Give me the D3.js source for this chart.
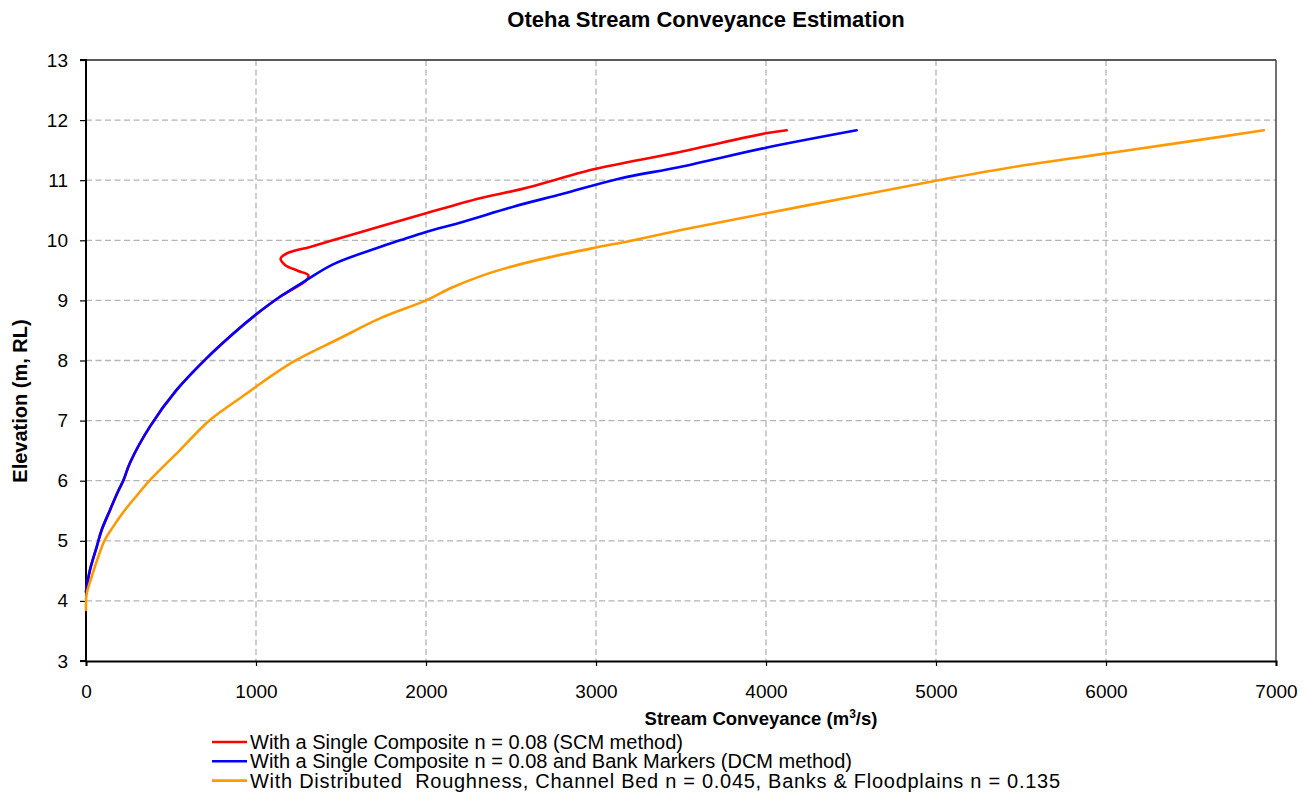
<!DOCTYPE html>
<html>
<head>
<meta charset="utf-8">
<script src="https://cdn.jsdelivr.net/npm/d3@7"></script>
<style>
  html, body { margin: 0; padding: 0; background: #fff; }
  text { font-family: "Liberation Sans", Arial, sans-serif; fill: #000; }
</style>
</head>
<body>
<svg id="chart" width="1312" height="798"></svg>
<script>
// ---- data ----
const xTicks = [0, 1000, 2000, 3000, 4000, 5000, 6000, 7000];
const yTicks = [3, 4, 5, 6, 7, 8, 9, 10, 11, 12, 13];

const seriesNames = [
  "With a Single Composite n = 0.08 (SCM method)",
  "With a Single Composite n = 0.08 and Bank Markers (DCM method)",
  "With Distributed  Roughness, Channel Bed n = 0.045, Banks & Floodplains n = 0.135"
];
const seriesColors = ["#ff0000", "#0000ff", "#ff9900"];

const scmQ    = [0, 23, 63, 92, 141, 185, 222, 259, 376, 533, 710, 867, 998, 1141, 1298, 1308, 1249, 1171, 1145, 1180, 1318, 1451, 1729, 2000, 2318, 2573, 2788, 3000, 3494, 4000, 4122];
const scmElev = [4.15, 4.51, 4.90, 5.18, 5.51, 5.80, 6.02, 6.30, 6.90, 7.51, 8.04, 8.45, 8.76, 9.06, 9.34, 9.42, 9.49, 9.59, 9.70, 9.78, 9.89, 10.00, 10.23, 10.45, 10.70, 10.86, 11.03, 11.19, 11.47, 11.78, 11.83];

const dcmQ    = [0, 23, 63, 92, 141, 185, 222, 259, 376, 533, 710, 867, 998, 1141, 1298, 1453, 1729, 1847, 2000, 2220, 2514, 2800, 3141, 3494, 4000, 4533];
const dcmElev = [4.15, 4.51, 4.90, 5.18, 5.51, 5.80, 6.02, 6.30, 6.90, 7.51, 8.04, 8.45, 8.76, 9.06, 9.34, 9.60, 9.89, 10.00, 10.14, 10.31, 10.56, 10.77, 11.03, 11.22, 11.54, 11.83];

const drQ    = [0, 3, 33, 73, 108, 161, 220, 298, 376, 553, 729, 945, 998, 1220, 1494, 1729, 2000, 2150, 2318, 2500, 2730, 3000, 3200, 3500, 4004, 4516, 5014, 5500, 6015, 6500, 6929];
const drElev = [3.85, 4.10, 4.40, 4.74, 5.00, 5.24, 5.48, 5.75, 6.01, 6.51, 7.01, 7.45, 7.56, 7.98, 8.37, 8.70, 9.00, 9.21, 9.40, 9.56, 9.72, 9.88, 9.99, 10.17, 10.45, 10.73, 11.00, 11.24, 11.45, 11.65, 11.83];

// ---- layout ----
const svg = d3.select("#chart");
const L = 86, R = 1276, T = 60, B = 661;
const x = d3.scaleLinear().domain([0, 7000]).range([L, R]);
const y = d3.scaleLinear().domain([3, 13]).range([B, T]);

// gridlines
const grid = svg.append("g");
grid.selectAll("line.h").data(yTicks.filter(v => v > 3 && v < 13)).join("line")
  .attr("x1", L).attr("x2", R).attr("y1", d => y(d)).attr("y2", d => y(d))
  .attr("stroke", "#b4b4b4").attr("stroke-width", 1.3).attr("stroke-dasharray", "6,3.5");
grid.selectAll("line.v").data(xTicks.filter(v => v > 0 && v < 7000)).join("line")
  .attr("y1", T).attr("y2", B).attr("x1", d => x(d)).attr("x2", d => x(d))
  .attr("stroke", "#b4b4b4").attr("stroke-width", 1.3).attr("stroke-dasharray", "6,3.5");

// plot border top / right
svg.append("line").attr("x1", L).attr("x2", R).attr("y1", T).attr("y2", T)
  .attr("stroke", "#222").attr("stroke-width", 1.5);
svg.append("line").attr("x1", R).attr("x2", R).attr("y1", T).attr("y2", B)
  .attr("stroke", "#444").attr("stroke-width", 1.5);

// axes
const xAxis = d3.axisBottom(x).tickValues(xTicks).tickSize(5).tickPadding(19).tickFormat(d3.format("d"));
const yAxis = d3.axisLeft(y).tickValues(yTicks).tickSize(6).tickPadding(12).tickFormat(d3.format("d"));

const gx = svg.append("g").attr("transform", `translate(0,${B})`).call(xAxis);
const gy = svg.append("g").attr("transform", `translate(${L},0)`).call(yAxis);
[gx, gy].forEach(g => {
  g.select(".domain").attr("stroke", "#000").attr("stroke-width", 2);
  g.selectAll(".tick line").attr("stroke", "#000").attr("stroke-width", 1.2);
  g.selectAll(".tick text").attr("font-size", 19).attr("font-family", "Liberation Sans, Arial, sans-serif").attr("fill", "#000");
});
gx.selectAll(".tick text").attr("dy", 0).attr("y", 37);
gy.select(".domain").attr("d", `M-6,${T}H0V${B}H-6`);

// lines
const series = [
  { q: scmQ, e: scmElev },
  { q: dcmQ, e: dcmElev },
  { q: drQ,  e: drElev }
];
const line = d3.line().x(d => x(d[0])).y(d => y(d[1])).curve(d3.curveCatmullRom.alpha(0.5));
series.forEach((s, i) => {
  const pts = s.q.map((q, k) => [q, s.e[k]]);
  svg.append("path").datum(pts).attr("d", line)
    .attr("fill", "none").attr("stroke", seriesColors[i]).attr("stroke-width", 2.6)
    .attr("stroke-linejoin", "round").attr("stroke-linecap", "round");
});

// title
svg.append("text").attr("x", 706).attr("y", 27).attr("text-anchor", "middle")
  .attr("font-size", 22).attr("font-weight", "bold").text("Oteha Stream Conveyance Estimation");

// axis titles
const xt = svg.append("text").attr("x", 761).attr("y", 725).attr("text-anchor", "middle")
  .attr("font-size", 18.5).attr("font-weight", "bold");
xt.append("tspan").text("Stream Conveyance (m");
xt.append("tspan").text("3").attr("font-size", 12).attr("dy", -7);
xt.append("tspan").text("/s)").attr("dy", 7);

svg.append("text").attr("transform", "translate(27,401) rotate(-90)").attr("text-anchor", "middle")
  .attr("font-size", 20).attr("font-weight", "bold").text("Elevation (m, RL)");

// legend
const legendWidths = [null, null, 810];
const leg = svg.append("g");
seriesNames.forEach((name, i) => {
  const yy = 742 + i * 19.3;
  leg.append("line").attr("x1", 212).attr("x2", 247).attr("y1", yy).attr("y2", yy)
    .attr("stroke", seriesColors[i]).attr("stroke-width", 2.6);
  const t = leg.append("text").attr("x", 250).attr("y", yy + 7).attr("font-size", 20)
    .attr("xml:space", "preserve").style("white-space", "pre").text(name);
  if (legendWidths[i]) t.attr("textLength", legendWidths[i]).attr("lengthAdjust", "spacing");
});
</script>
</body>
</html>
